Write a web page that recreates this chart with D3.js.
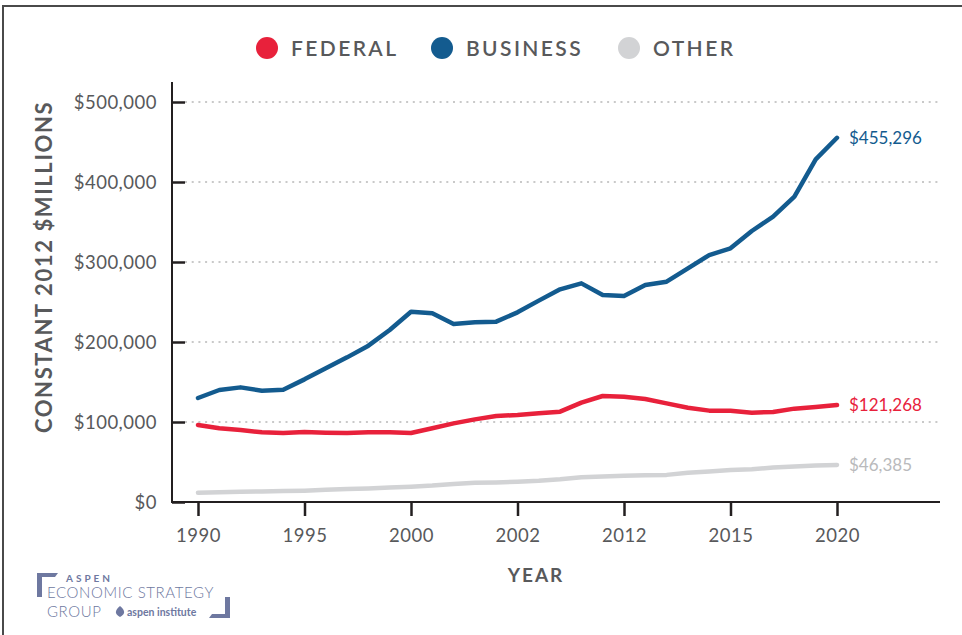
<!DOCTYPE html>
<html>
<head>
<meta charset="utf-8">
<script src="https://cdn.jsdelivr.net/npm/d3@7"></script>
<style>
  html, body { margin: 0; padding: 0; background: #fff; }
  svg { display: block; }
  text { font-family: Lato, "Open Sans", sans-serif; }
</style>
</head>
<body>
<svg id="chart" width="962" height="635"></svg>
<script>
// R&D funding by source, constant 2012 $millions
const years = d3.range(1990, 2021);
const federal = [96250, 92100, 90000, 87100, 86250, 87500, 86700, 86250, 87100, 87100,
  86250, 92100, 98300, 103300, 107500, 108750, 110800, 112900, 124200, 132500,
  131700, 128750, 123300, 117900, 114200, 114200, 111700, 112500, 116700, 118750, 121268];
const business = [130000, 140000, 143300, 139100, 140400, 153300, 167100, 180800, 195400, 215000,
  237900, 235800, 222500, 224600, 225400, 237100, 251700, 265800, 273300, 258700,
  257500, 271200, 275400, 292100, 308700, 317100, 338750, 356700, 381700, 428300, 455296];
const other = [11700, 12200, 12700, 13200, 13700, 14200, 15200, 16200, 17000, 18000,
  19200, 20500, 22500, 24000, 24500, 25400, 26500, 28300, 31000, 32000,
  32900, 33500, 33900, 36500, 38000, 40000, 41000, 43000, 44500, 45500, 46385];
const tickYears = [1990, 1995, 2000, 2005, 2010, 2015, 2020];
const tickLabels = ["1990", "1995", "2000", "2002", "2012", "2015", "2020"];
const yTicks = [0, 100000, 200000, 300000, 400000, 500000];

const seriesNames = ["FEDERAL", "BUSINESS", "OTHER"];
const seriesValues = [federal, business, other];
const colors = { FEDERAL: "#e8213b", BUSINESS: "#135b8f", OTHER: "#d2d3d5" };
const labelColors = { FEDERAL: "#e8213b", BUSINESS: "#135b8f", OTHER: "#b9babc" };

const svg = d3.select("#chart");

// outer frame (top and left edges)
svg.append("path")
  .attr("d", "M3,640 L3,6 L962,6")
  .attr("fill", "none").attr("stroke", "#4a4a4a").attr("stroke-width", 2);

const x = d3.scaleLinear().domain([1990, 2020]).range([198, 837]);
const y = d3.scaleLinear().domain([0, 500000]).range([502, 102]);
const axisLeft = 172, plotRight = 940;

// dotted gridlines
svg.append("g").selectAll("line")
  .data(yTicks.filter(d => d > 0))
  .join("line")
  .attr("x1", axisLeft + 13).attr("x2", plotRight)
  .attr("y1", d => y(d)).attr("y2", d => y(d))
  .attr("stroke", "#c9c9c9").attr("stroke-width", 2)
  .attr("stroke-dasharray", "2,4.7");

// y axis with inward ticks
const yAxis = svg.append("g")
  .attr("transform", `translate(${axisLeft},0)`)
  .call(d3.axisRight(y).tickValues(yTicks).tickSize(13)
    .tickFormat(d => "$" + d3.format(",")(d)));
yAxis.select(".domain").remove();
yAxis.selectAll(".tick line").attr("stroke", "#231f20").attr("stroke-width", 2.5);
yAxis.selectAll(".tick text")
  .attr("x", -15).attr("text-anchor", "end").attr("dy", "0.35em")
  .attr("fill", "#58595b").attr("font-size", 18.5).attr("letter-spacing", 0.5);

svg.append("line")
  .attr("x1", axisLeft).attr("x2", axisLeft).attr("y1", 82).attr("y2", 503)
  .attr("stroke", "#231f20").attr("stroke-width", 2);

// x axis
const xAxis = svg.append("g")
  .attr("transform", "translate(0,502)")
  .call(d3.axisBottom(x).tickValues(tickYears).tickSize(14)
    .tickFormat((d, i) => tickLabels[i]));
xAxis.select(".domain").remove();
xAxis.selectAll(".tick line").attr("stroke", "#231f20").attr("stroke-width", 2.5);
xAxis.selectAll(".tick text")
  .attr("y", 27).attr("dy", "0.71em")
  .attr("fill", "#58595b").attr("font-size", 18.5).attr("letter-spacing", 0.5);

svg.append("line")
  .attr("x1", axisLeft - 1).attr("x2", plotRight).attr("y1", 502).attr("y2", 502)
  .attr("stroke", "#231f20").attr("stroke-width", 2);

// lines
const line = d3.line().x((d, i) => x(years[i])).y(d => y(d));
const drawOrder = [2, 0, 1];
drawOrder.forEach(k => {
  const name = seriesNames[k];
  svg.append("path")
    .datum(seriesValues[k])
    .attr("d", line)
    .attr("fill", "none")
    .attr("stroke", colors[name])
    .attr("stroke-width", 4.5)
    .attr("stroke-linecap", "round")
    .attr("stroke-linejoin", "round");
});

// end-of-line value labels
seriesNames.forEach((name, k) => {
  const vals = seriesValues[k];
  const last = vals[vals.length - 1];
  svg.append("text")
    .attr("x", x(2020) + 12).attr("y", y(last))
    .attr("dy", "0.35em")
    .attr("fill", labelColors[name])
    .attr("font-size", 17)
    .text("$" + d3.format(",")(last));
});

// legend
const legendX = [267, 442, 629];
const legend = svg.append("g");
seriesNames.forEach((name, k) => {
  legend.append("circle")
    .attr("cx", legendX[k]).attr("cy", 48).attr("r", 11)
    .attr("fill", colors[name]);
  legend.append("text")
    .attr("x", legendX[k] + 24).attr("y", 48).attr("dy", "0.36em")
    .attr("fill", "#58595b").attr("font-size", 21)
    .attr("font-weight", 600)
    .attr("letter-spacing", 2.4)
    .text(name);
});

// axis titles
svg.append("text")
  .attr("transform", "translate(52,267) rotate(-90)")
  .attr("text-anchor", "middle")
  .attr("fill", "#58595b").attr("font-size", 22).attr("font-weight", 700)
  .attr("letter-spacing", 1.6)
  .text("CONSTANT 2012 $MILLIONS");

svg.append("text")
  .attr("x", 536).attr("y", 575).attr("dy", "0.35em")
  .attr("text-anchor", "middle")
  .attr("fill", "#58595b").attr("font-size", 19).attr("font-weight", 700)
  .attr("letter-spacing", 2)
  .text("YEAR");

// Aspen Economic Strategy Group wordmark
const logo = svg.append("g").attr("fill", "#6e78a0");
logo.append("path").attr("d", "M37,573 L58,573 L55,577 L42,577 L42,597 L37,597 Z");
logo.append("path").attr("d", "M230,597 L230,618 L209,618 L212,614 L225,614 L225,597 Z");
logo.append("text").attr("x", 66).attr("y", 582)
  .attr("font-size", 10).attr("font-weight", 700).attr("letter-spacing", 3)
  .text("ASPEN");
logo.append("text").attr("x", 47).attr("y", 598)
  .attr("font-size", 15).attr("font-weight", 300).attr("letter-spacing", 0.6)
  .text("ECONOMIC STRATEGY");
logo.append("text").attr("x", 47).attr("y", 617)
  .attr("font-size", 15).attr("font-weight", 300).attr("letter-spacing", 0.6)
  .text("GROUP");
logo.append("path").attr("d", "M120,606 C115,610 114,614 120,617 C126,614 125,610 120,606 Z");
logo.append("text").attr("x", 127).attr("y", 616)
  .attr("font-size", 10.5).attr("font-weight", 700)
  .text("aspen institute");
</script>
</body>
</html>
